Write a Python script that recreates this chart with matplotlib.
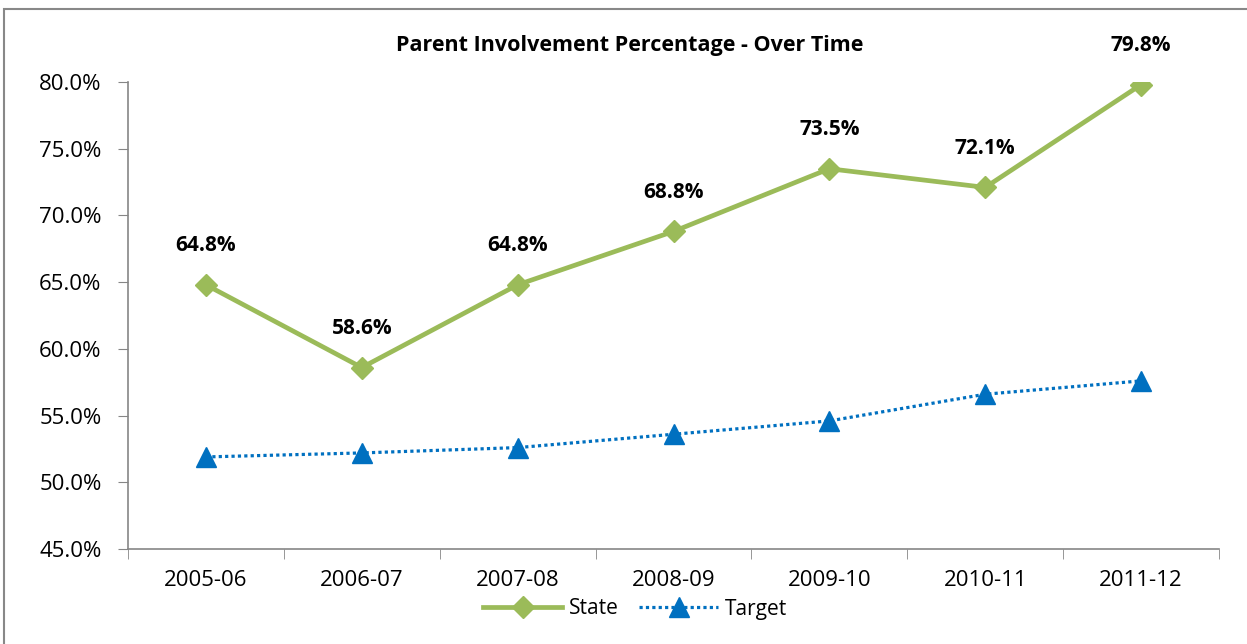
import matplotlib
matplotlib.use("Agg")
import matplotlib.pyplot as plt
from matplotlib.ticker import FuncFormatter, FixedLocator
from matplotlib.patches import Rectangle

plt.rcParams['font.family'] = ['Open Sans', 'DejaVu Sans']

categories = ["2005-06", "2006-07", "2007-08", "2008-09", "2009-10", "2010-11", "2011-12"]
state = [64.8, 58.6, 64.8, 68.8, 73.5, 72.1, 79.8]
target = [51.9, 52.2, 52.6, 53.6, 54.6, 56.6, 57.6]
title = "Parent Involvement Percentage - Over Time"
yticks = [45, 50, 55, 60, 65, 70, 75, 80]

fig = plt.figure(figsize=(12.47, 6.44), dpi=100)
ax = fig.add_axes([128/1247, 1-549/644, (1219-128)/1247, (549-82)/644])

x = list(range(len(categories)))
ax.plot(x, state, color="#9BBB59", lw=3.4, marker="D", ms=11, label="State", zorder=3)
ax.plot(x, target, color="#0070C0", lw=2.3, ls=(0, (1, 1.0)), marker="^", ms=15,
        label="Target", zorder=3)

for xi, v in zip(x, state):
    ax.annotate(f"{v:.1f}%", (xi, v), xytext=(0, 28), textcoords="offset points",
                ha="center", va="center", fontsize=15, fontweight="bold")

ax.set_xlim(-0.5, len(categories) - 0.5)
ax.set_ylim(45, 80)
ax.set_yticks(yticks)
ax.yaxis.set_major_formatter(FuncFormatter(lambda v, p: f"{v:.1f}%"))
ax.set_xticks(x)
ax.set_xticklabels(categories)
ax.xaxis.set_minor_locator(FixedLocator([i + 0.5 for i in range(-1, len(categories))]))

for s in ["top", "right"]:
    ax.spines[s].set_visible(False)
for s in ["left", "bottom"]:
    ax.spines[s].set_color("#868686")
    ax.spines[s].set_linewidth(1.2)
ax.tick_params(axis="y", which="major", length=7, color="#868686", labelsize=16, pad=12)
ax.tick_params(axis="x", which="major", length=0, labelsize=16, pad=15)
ax.tick_params(axis="x", which="minor", length=7, color="#868686")

fig.text(630/1247, 1-46/644, title, ha="center", va="center", fontsize=15.5, fontweight="bold")

leg = fig.legend(loc="center", bbox_to_anchor=(635/1247, 1-609/644), ncol=2, frameon=False,
                 fontsize=15, handlelength=3.8, columnspacing=1.0, handletextpad=0.3)

fig.patches.append(Rectangle((4/1247, -0.1), 1.2, 1-9/644+0.1, transform=fig.transFigure,
                             fill=False, edgecolor="#888888", lw=1.5))

fig.savefig("out.png", dpi=100)
